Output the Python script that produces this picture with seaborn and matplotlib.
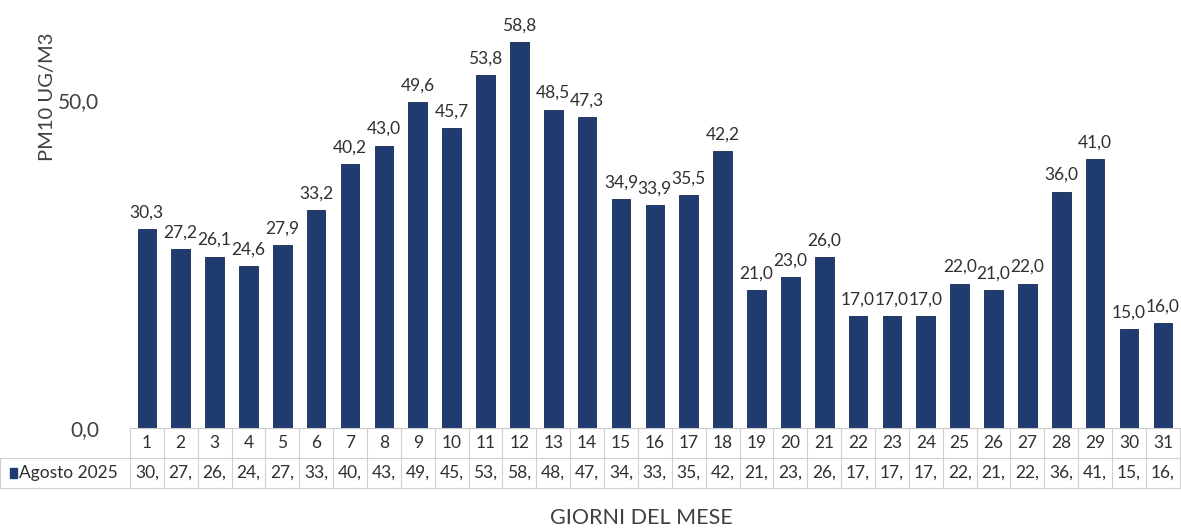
import numpy as np
import pandas as pd
import seaborn as sns
import matplotlib.pyplot as plt
from matplotlib.patches import Rectangle

days = list(range(1, 32))
pm10 = [30.3, 27.2, 26.1, 24.6, 27.9, 33.2, 40.2, 43.0, 49.6, 45.7,
        53.8, 58.8, 48.5, 47.3, 34.9, 33.9, 35.5, 42.2, 21.0, 23.0,
        26.0, 17.0, 17.0, 17.0, 22.0, 21.0, 22.0, 36.0, 41.0, 15.0, 16.0]
series_name = "Agosto 2025"
y_ticks = [0, 50]

df = pd.DataFrame({"giorno": [str(d) for d in days], "pm10": pm10})

bar_color = "#1f3b70"
font = ["Lato", "DejaVu Sans"]

sns.set_style("white")
plt.rcParams["font.family"] = font

fig = plt.figure(figsize=(11.81, 5.31), dpi=100)
ax = fig.add_axes([0.110, 0.194, 0.889, 0.742])

sns.barplot(data=df, x="giorno", y="pm10", color=bar_color, width=0.55,
            saturation=1, ax=ax, edgecolor="#15294f", linewidth=0.6)

ax.set_ylim(0, 60)
ax.set_xlim(-0.5, len(days) - 0.5)
ax.set_yticks(y_ticks)
ax.set_yticklabels([f"{t:.1f}".replace(".", ",") for t in y_ticks], fontsize=15, color="#404040")
ax.tick_params(axis="y", length=0, pad=22)
ax.set_xticks([])
ax.set_xlabel("")
ax.set_ylabel("PM10 UG/M3", fontsize=14.5, color="#404040")
ax.yaxis.set_label_coords(-0.07, 0.84)
for s in ["top", "right", "left"]:
    ax.spines[s].set_visible(False)
ax.spines["bottom"].set_color("#c8c8c8")

# data labels
for i, v in enumerate(pm10):
    ax.text(i, v + 1.3, f"{v:.1f}".replace(".", ","), ha="center", va="bottom",
            fontsize=12.5, color="#303030")

# data table under the chart
trans = ax.get_xaxis_transform()
line_c = "#d0d0d0"
r0, r1, r2 = 0.0, -0.076, -0.152
for i, d in enumerate(days):
    ax.text(i, (r0 + r1) / 2, str(d), transform=trans, ha="center", va="center",
            fontsize=12.5, color="#303030", clip_on=False)
    ax.text(i, (r1 + r2) / 2, f"{int(pm10[i])},", transform=trans, ha="center",
            va="center", fontsize=12.5, color="#303030", clip_on=False)
for k in range(len(days) + 1):
    ax.plot([k - 0.5, k - 0.5], [r0, r2], transform=trans, color=line_c,
            lw=0.8, clip_on=False)
for r in [r1, r2]:
    ax.plot([-4.35, len(days) - 0.5], [r, r], transform=trans, color=line_c,
            lw=0.8, clip_on=False)
ax.plot([-4.35, -4.35], [r1, r2], transform=trans, color=line_c, lw=0.8, clip_on=False)
ax.add_patch(Rectangle((-4.05, (r1 + r2) / 2 - 0.012), 0.22, 0.024, transform=trans,
                       color=bar_color, clip_on=False))
ax.text(-3.78, (r1 + r2) / 2, series_name, transform=trans, ha="left", va="center",
        fontsize=12.5, color="#303030", clip_on=False)

fig.text(0.543, 0.005, "GIORNI DEL MESE", ha="center", va="bottom", fontsize=15.5,
         color="#404040")

fig.savefig("out.png", dpi=100)
